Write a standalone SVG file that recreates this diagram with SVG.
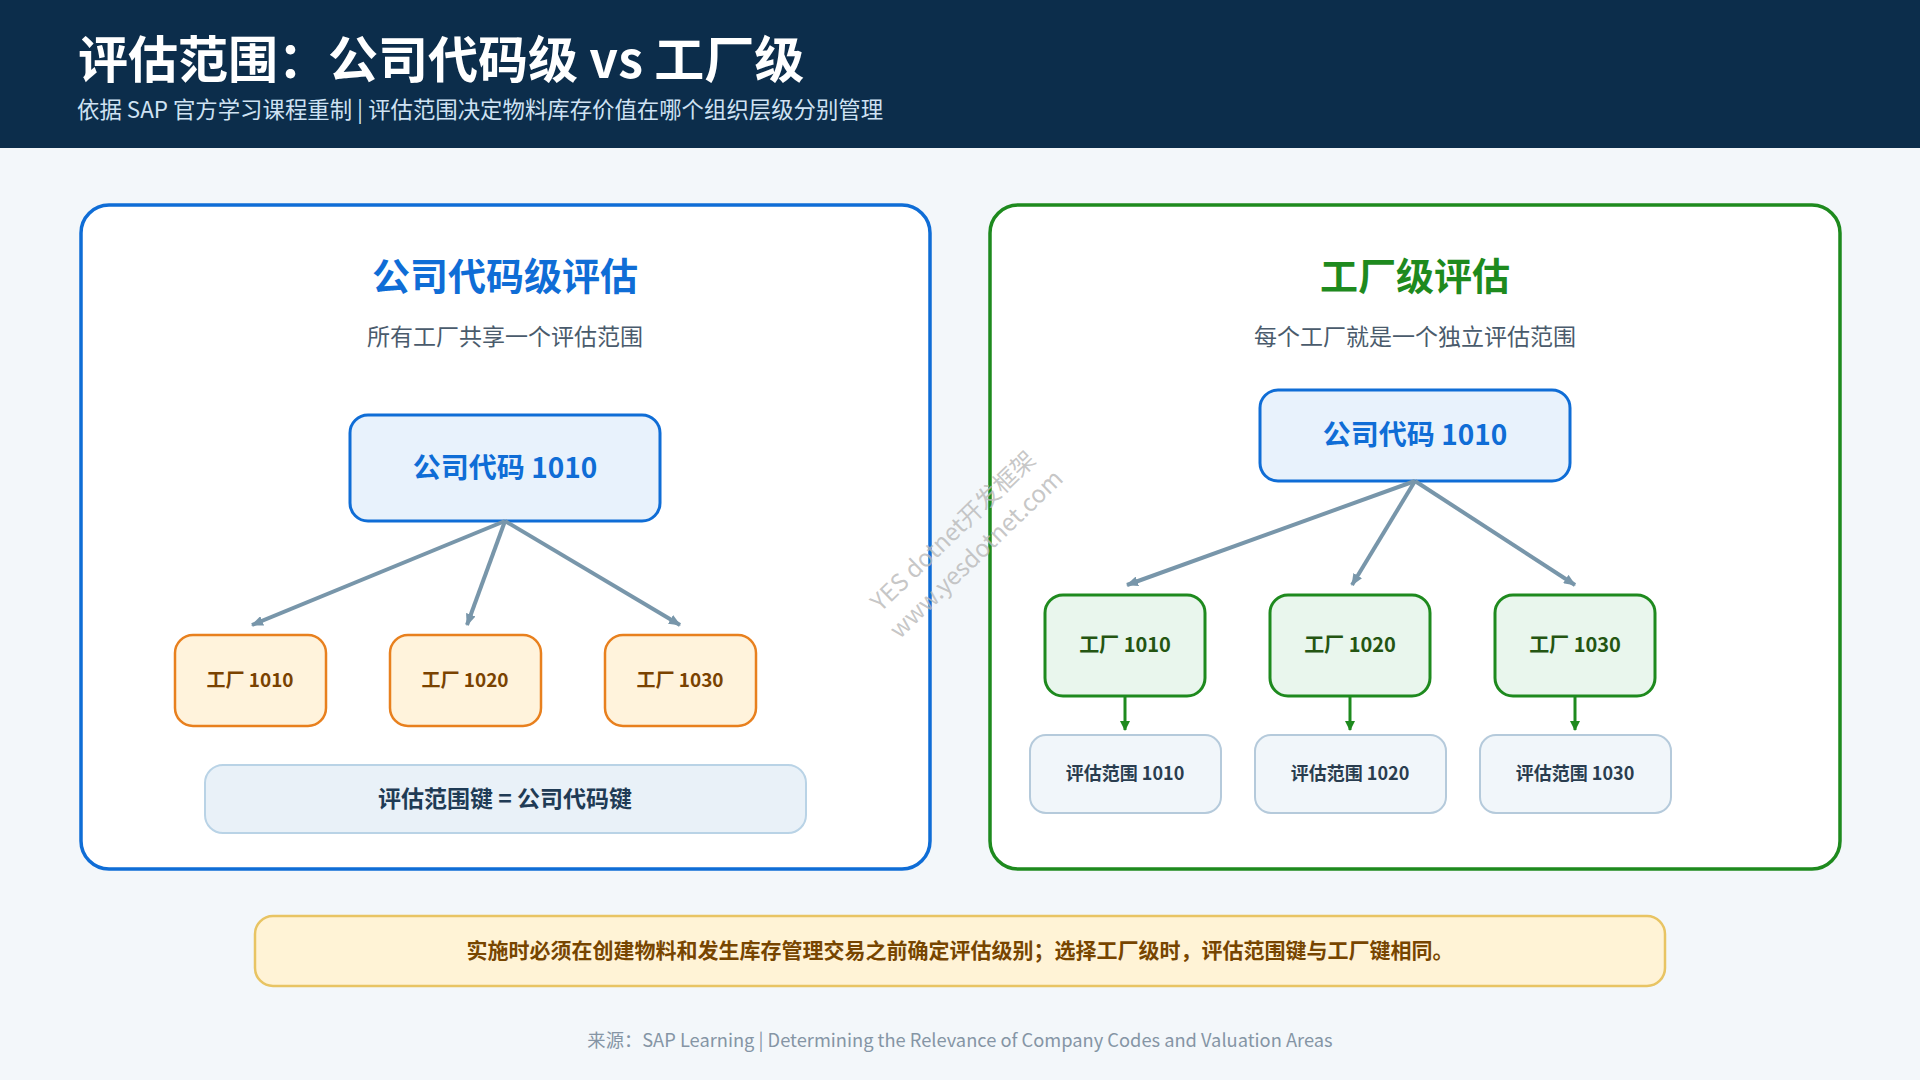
<svg xmlns="http://www.w3.org/2000/svg" width="1920" height="1080" viewBox="0 0 1920 1080">
<defs>
<style>
.f{font-family:"Noto Sans CJK SC","Noto Sans",sans-serif}
.b{font-weight:700}
.ptitle{font-size:38px;font-weight:700;text-anchor:middle}
.psub{font-size:23px;fill:#4a5b6c;text-anchor:middle}
.plantL rect{fill:#fff3dc;stroke:#e8801e;stroke-width:2.5}
.plantL text{font-size:19px;font-weight:700;fill:#7a4200;text-anchor:middle}
.plantR rect{fill:#e9f6ed;stroke:#1e8a1e;stroke-width:3}
.plantR text{font-size:20px;font-weight:700;fill:#245512;text-anchor:middle}
.va rect{fill:#f1f6fa;stroke:#b5cadb;stroke-width:2}
.va text{font-size:18px;font-weight:700;fill:#2a3d4f;text-anchor:middle}
.cc rect{fill:#e8f2fc;stroke:#0f6dd6;stroke-width:3}
.cc text{font-size:28px;font-weight:700;fill:#0f6dd6;text-anchor:middle}
.gl{stroke:#7896aa;stroke-width:4;fill:none}
.gr{stroke:#1e8a1e;stroke-width:3;fill:none}
</style>
<marker id="ag" markerUnits="userSpaceOnUse" markerWidth="12" markerHeight="10" refX="11" refY="5" orient="auto">
<path d="M0,0 L12,5 L0,10 z" fill="#7896aa"/>
</marker>
<marker id="agr" markerUnits="userSpaceOnUse" markerWidth="10" markerHeight="10" refX="9" refY="5" orient="auto">
<path d="M0,0 L10,5 L0,10 z" fill="#1e8a1e"/>
</marker>
</defs>
<rect x="0" y="0" width="1920" height="1080" fill="#f3f7fa"/>
<g id="header">
<rect x="0" y="0" width="1920" height="148" fill="#0c2d4b"/>
<text class="f b" x="78" y="78" font-size="50" fill="#ffffff">评估范围：公司代码级 vs 工厂级</text>
<text class="f" x="77" y="118" font-size="22.4" fill="#cfe2f3">依据 SAP 官方学习课程重制 | 评估范围决定物料库存价值在哪个组织层级分别管理</text>
</g>
<g id="panel-company">
<rect x="81" y="205" width="849" height="664" rx="28" fill="#ffffff" stroke="#0f6dd6" stroke-width="3.5"/>
<text class="f ptitle" x="505" y="290" fill="#0f6dd6">公司代码级评估</text>
<text class="f psub" x="505" y="345">所有工厂共享一个评估范围</text>
</g>
<g id="cc-left" class="cc">
<rect x="350" y="415" width="310" height="106" rx="18"/>
<text class="f" x="505" y="478">公司代码 1010</text>
</g>
<g id="plant-l-1010" class="plantL"><rect x="175" y="635" width="151" height="91" rx="18"/><text class="f" x="250" y="687">工厂 1010</text></g>
<g id="plant-l-1020" class="plantL"><rect x="390" y="635" width="151" height="91" rx="18"/><text class="f" x="465" y="687">工厂 1020</text></g>
<g id="plant-l-1030" class="plantL"><rect x="605" y="635" width="151" height="91" rx="18"/><text class="f" x="680" y="687">工厂 1030</text></g>
<g id="key-note">
<rect x="205" y="765" width="601" height="68" rx="18" fill="#e9f1f8" stroke="#b9d3e6" stroke-width="2"/>
<text class="f b" x="505" y="807" font-size="23" fill="#1f3b55" text-anchor="middle">评估范围键 = 公司代码键</text>
</g>
<g id="panel-plant">
<rect x="990" y="205" width="850" height="664" rx="28" fill="#ffffff" stroke="#1e8a1e" stroke-width="3.5"/>
<text class="f ptitle" x="1415" y="290" fill="#1e8a1e">工厂级评估</text>
<text class="f psub" x="1415" y="345">每个工厂就是一个独立评估范围</text>
</g>
<g id="cc-right" class="cc">
<rect x="1260" y="390" width="310" height="91" rx="18"/>
<text class="f" x="1415" y="445">公司代码 1010</text>
</g>
<g id="plant-r-1010" class="plantR"><rect x="1045" y="595" width="160" height="101" rx="18"/><text class="f" x="1125" y="652">工厂 1010</text></g>
<g id="plant-r-1020" class="plantR"><rect x="1270" y="595" width="160" height="101" rx="18"/><text class="f" x="1350" y="652">工厂 1020</text></g>
<g id="plant-r-1030" class="plantR"><rect x="1495" y="595" width="160" height="101" rx="18"/><text class="f" x="1575" y="652">工厂 1030</text></g>
<g id="va-1010" class="va"><rect x="1030" y="735" width="191" height="78" rx="16"/><text class="f" x="1125" y="780">评估范围 1010</text></g>
<g id="va-1020" class="va"><rect x="1255" y="735" width="191" height="78" rx="16"/><text class="f" x="1350" y="780">评估范围 1020</text></g>
<g id="va-1030" class="va"><rect x="1480" y="735" width="191" height="78" rx="16"/><text class="f" x="1575" y="780">评估范围 1030</text></g>
<g id="connectors">
<line class="gl" x1="505" y1="521" x2="252" y2="625" marker-end="url(#ag)"/>
<line class="gl" x1="505" y1="521" x2="467" y2="625" marker-end="url(#ag)"/>
<line class="gl" x1="505" y1="521" x2="680" y2="625" marker-end="url(#ag)"/>
<line class="gl" x1="1415" y1="481" x2="1127" y2="585" marker-end="url(#ag)"/>
<line class="gl" x1="1415" y1="481" x2="1352" y2="585" marker-end="url(#ag)"/>
<line class="gl" x1="1415" y1="481" x2="1575" y2="585" marker-end="url(#ag)"/>
<line class="gr" x1="1125" y1="696" x2="1125" y2="730" marker-end="url(#agr)"/>
<line class="gr" x1="1350" y1="696" x2="1350" y2="730" marker-end="url(#agr)"/>
<line class="gr" x1="1575" y1="696" x2="1575" y2="730" marker-end="url(#agr)"/>
</g>
<g id="note">
<rect x="255" y="916" width="1410" height="70" rx="18" fill="#fff3d6" stroke="#e8c463" stroke-width="2.5"/>
<text class="f b" x="960" y="958" font-size="21" fill="#774500" text-anchor="middle">实施时必须在创建物料和发生库存管理交易之前确定评估级别；选择工厂级时，评估范围键与工厂键相同。</text>
</g>
<g id="footer">
<text class="f" x="960" y="1047" font-size="18.3" fill="#8595a5" text-anchor="middle">来源：SAP Learning | Determining the Relevance of Company Codes and Valuation Areas</text>
</g>
<g id="watermark" fill="#b8b8b8" fill-opacity="0.8" font-size="24" text-anchor="middle">
<text class="f" transform="translate(959,537) rotate(-44)">YES dotnet开发框架</text>
<text class="f" transform="translate(982,560) rotate(-44)">www.yesdotnet.com</text>
</g>
</svg>
